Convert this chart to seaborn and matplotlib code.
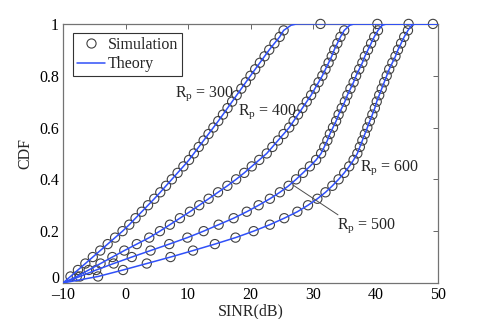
import numpy as np
import pandas as pd
import matplotlib
matplotlib.use("Agg")
import matplotlib.pyplot as plt
import matplotlib.transforms as mtransforms
import seaborn as sns
from matplotlib.lines import Line2D

# ---------------- data ----------------
radii = [300, 400, 500, 600]
cdf_levels = [0.025, 0.05, 0.075, 0.1, 0.125, 0.15, 0.175, 0.2, 0.225, 0.25,
              0.275, 0.3, 0.325, 0.35, 0.375, 0.4, 0.425, 0.45, 0.475, 0.5,
              0.525, 0.55, 0.575, 0.6, 0.625, 0.65, 0.675, 0.7, 0.725, 0.75,
              0.775, 0.8, 0.825, 0.85, 0.875, 0.9, 0.925, 0.95, 0.975]
sinr_300 = [-8.81, -7.62, -6.43, -5.24, -4.05, -2.86, -1.67, -0.48, 0.6, 1.6,
            2.6, 3.6, 4.6, 5.56, 6.48, 7.41, 8.33, 9.26, 10.16, 10.94,
            11.72, 12.5, 13.28, 14.06, 14.84, 15.59, 16.32, 17.06, 17.79, 18.53,
            19.26, 20.0, 20.75, 21.5, 22.25, 23.0, 23.83, 24.67, 25.3]
sinr_400 = [-7.8, -5.9, -4.0, -2.1, -0.2, 1.8, 3.8, 5.5, 7.1, 8.7,
            10.3, 11.8, 13.3, 14.8, 16.3, 17.7, 19.0, 20.2, 21.4, 22.6,
            23.5, 24.4, 25.3, 26.2, 26.9, 27.6, 28.3, 29.0, 29.7, 30.3,
            30.9, 31.5, 32.0, 32.5, 33.0, 33.4, 33.9, 34.4, 35.0]
sinr_500 = [-7.3, -4.7, -1.9, 1.0, 4.0, 7.0, 9.9, 12.5, 14.9, 17.3,
            19.4, 21.3, 23.1, 24.7, 26.1, 27.3, 28.4, 29.5, 30.5, 31.3,
            31.8, 32.3, 32.7, 33.2, 33.7, 34.1, 34.6, 35.1, 35.5, 36.0,
            36.5, 36.9, 37.4, 37.9, 38.3, 38.8, 39.3, 39.8, 40.4]
sinr_600 = [-4.4, -0.4, 3.4, 7.2, 10.8, 14.3, 17.6, 20.5, 23.1, 25.4,
            27.5, 29.2, 30.7, 32.0, 33.1, 34.1, 35.0, 35.8, 36.5, 37.1,
            37.5, 37.9, 38.3, 38.7, 39.1, 39.5, 39.9, 40.2, 40.6, 41.0,
            41.4, 41.8, 42.2, 42.7, 43.2, 43.6, 44.1, 44.6, 45.2]
sim_max_sinr = [31.2, 40.3, 45.3, 49.2]          # last simulated sample (CDF = 1)
theory_start = -10.0
theory_near_top_x = [26.5, 35.9, 41.1, 45.8]      # CDF = 0.995
theory_top_x = [27.4, 36.6, 41.8, 46.4]           # CDF reaches 1
near_top_cdf = 0.995
x_end = 50.0

x_ticks = [-10, 0, 10, 20, 30, 40, 50]
y_ticks = [0, 0.2, 0.4, 0.6, 0.8, 1]
y_tick_labels = ["0", "0.2", "0.4", "0.6", "0.8", "1"]
x_tick_labels = ["\u201210", "0", "10", "20", "30", "40", "50"]

series = [sinr_300, sinr_400, sinr_500, sinr_600]

sim_rows, th_rows = [], []
for r, xs, smax, ntop, top in zip(radii, series, sim_max_sinr, theory_near_top_x, theory_top_x):
    for x, y in zip(xs, cdf_levels):
        sim_rows.append((r, x, y))
    sim_rows.append((r, smax, 1.0))
    pts = [(theory_start, 0.0)] + list(zip(xs, cdf_levels)) + [(ntop, near_top_cdf), (top, 1.0), (x_end, 1.0)]
    for i, (x, y) in enumerate(pts):
        th_rows.append((r, i, x, y))
sim_df = pd.DataFrame(sim_rows, columns=["R", "x", "y"])
th_df = pd.DataFrame(th_rows, columns=["R", "i", "x", "y"])

# ---------------- style ----------------
sns.set_theme(style="white")
plt.rcParams["font.family"] = ["Liberation Serif", "DejaVu Serif"]
plt.rcParams["mathtext.fontset"] = "custom"
plt.rcParams["mathtext.rm"] = "Liberation Serif"
plt.rcParams["mathtext.it"] = "Liberation Serif:italic"
plt.rcParams["axes.unicode_minus"] = False

BLUE = "#3050f8"
EDGE = "0.25"
FS = 11.5

fig = plt.figure(figsize=(4.85, 3.19), dpi=100)
ax = fig.add_axes([0.130, 0.113, 0.773, 0.812])

sns.scatterplot(data=sim_df, x="x", y="y", ax=ax, marker="o", s=44,
                facecolor="none", edgecolor=EDGE, linewidth=0.8, zorder=2,
                legend=False, clip_on=False)
sns.lineplot(data=th_df, x="x", y="y", units="R", estimator=None, sort=False,
             color=BLUE, linewidth=1.1, ax=ax, zorder=3, legend=False)

ax.set_xlim(-10, 50)
ax.set_ylim(0, 1)
ax.set_xticks(x_ticks)
ax.set_xticklabels(x_tick_labels)
ax.set_yticks(y_ticks)
ax.set_yticklabels(y_tick_labels)
ax.tick_params(direction="in", length=3.5, width=0.7, color="0.4",
               top=True, right=True, labelsize=FS, labelcolor="black")
ax.tick_params(axis="x", pad=3)
ax.tick_params(axis="y", pad=3)
for sp in ax.spines.values():
    sp.set_color("0.45")
    sp.set_linewidth(0.9)
ax.set_xlabel("SINR(dB)", fontsize=FS, labelpad=0)
ax.set_ylabel("CDF", fontsize=FS, labelpad=4)

# lift the "0" y tick label a little so it clears the "-10" x tick label
fig.canvas.draw()
ylab0 = ax.get_yticklabels()[0]
ylab0.set_transform(ylab0.get_transform() +
                    mtransforms.ScaledTranslation(0, 6 / 100, fig.dpi_scale_trans))

# annotations
ax.text(7.9, 0.718, r"R$_{\mathrm{p}}$ = 300", fontsize=FS, ha="left", va="baseline")
ax.text(18.0, 0.649, r"R$_{\mathrm{p}}$ = 400", fontsize=FS, ha="left", va="baseline")
ax.text(37.5, 0.434, r"R$_{\mathrm{p}}$ = 600", fontsize=FS, ha="left", va="baseline")
ax.text(33.8, 0.208, r"R$_{\mathrm{p}}$ = 500", fontsize=FS, ha="left", va="baseline")
ax.annotate("", xy=(26.8, 0.378), xytext=(34.0, 0.263),
            arrowprops=dict(arrowstyle="-", color="0.3", lw=0.7, shrinkA=0, shrinkB=0))

handles = [Line2D([], [], marker="o", ls="none", mfc="none", mec=EDGE, ms=6.6, mew=0.8),
           Line2D([], [], color=BLUE, lw=1.1)]
leg = ax.legend(handles, ["Simulation", "Theory"], loc="upper left",
                bbox_to_anchor=(0.027, 0.965), borderaxespad=0, fontsize=FS,
                frameon=True, fancybox=False, framealpha=1, edgecolor="0.2",
                handlelength=1.75, handletextpad=0.15, borderpad=0.25, labelspacing=0.2)
leg.get_frame().set_linewidth(0.8)

fig.savefig("out.png", dpi=100)
